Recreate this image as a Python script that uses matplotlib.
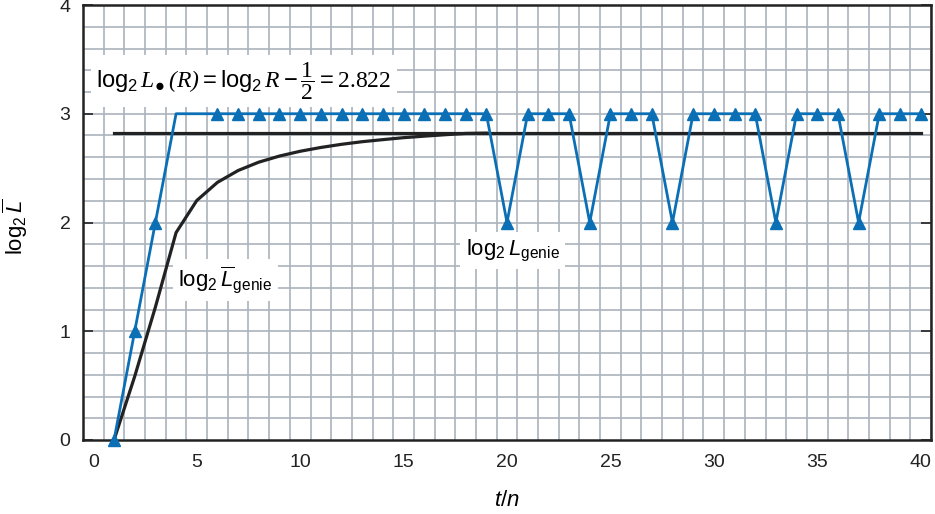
import matplotlib
matplotlib.use("Agg")
import matplotlib.pyplot as plt

plt.rcParams['font.family'] = ['Liberation Sans', 'DejaVu Sans']
plt.rcParams['mathtext.fontset'] = 'custom'
plt.rcParams['mathtext.rm'] = 'Liberation Sans'
plt.rcParams['mathtext.it'] = 'Liberation Sans:italic'
plt.rcParams['mathtext.cal'] = 'Liberation Serif:italic'
plt.rcParams['mathtext.tt'] = 'Liberation Serif'

# data
t = list(range(1, 41))
log2_L_genie = [0, 1, 2, 3, 3, 3, 3, 3, 3, 3,
                3, 3, 3, 3, 3, 3, 3, 3, 3, 2,
                3, 3, 3, 2, 3, 3, 3, 2, 3, 3,
                3, 3, 2, 3, 3, 3, 2, 3, 3, 3]
t_avg = list(range(1, 20))
log2_L_avg = [0.0, 0.585, 1.222, 1.907, 2.202, 2.369, 2.478, 2.555, 2.611, 2.655,
              2.690, 2.719, 2.743, 2.762, 2.780, 2.794, 2.807, 2.819, 2.822]
bound_t = [1, 40]
bound_val = [2.822, 2.822]
no_marker = [4, 5]

blue = '#0b6fb6'
grid_c = '#aab3bb'

fig = plt.figure(figsize=(9.35, 5.14), dpi=100)
ax = fig.add_axes([83 / 935, 1 - 440 / 514, 848 / 935, 435 / 514])

# grid: one cell per step in t, 0.2 in y
for gx in range(41):
    ax.axvline(gx + 0.5, color=grid_c, lw=1.2, zorder=0)
for k in range(1, 20):
    ax.axhline(k * 0.2, color=grid_c, lw=1.2, zorder=0)

ax.plot(bound_t, bound_val, color='#222222', lw=2.3, zorder=2)
ax.plot(t_avg, log2_L_avg, color='#222222', lw=2.3, zorder=2)
marks = [i for i, v in enumerate(t) if v not in no_marker]
ax.plot(t, log2_L_genie, color=blue, lw=2.0, marker='^', markersize=8,
        markevery=marks, zorder=3, clip_on=False)

ax.set_xlim(-0.5, 40.5)
ax.set_ylim(0, 4)
ax.set_xticks(range(0, 41, 5))
ax.set_yticks(range(0, 5))
ax.tick_params(axis='x', length=0, pad=10, labelsize=14, colors='#222222')
ax.tick_params(axis='y', direction='in', length=7, width=1.2, pad=9,
               labelsize=14, right=True, colors='#222222')
for s in ax.spines.values():
    s.set_linewidth(1.8)
    s.set_color('#222222')

ax.set_ylabel(r'$\mathrm{log}_2\,\overline{L}$', fontsize=16)
ax.yaxis.set_label_coords(-0.063, 0.49)
ax.set_xlabel(r'$t/n$', fontsize=16)
ax.xaxis.label.set_va('center')
ax.xaxis.set_label_coords(0.5, -0.138)

box = dict(facecolor='white', edgecolor='none', pad=4)
ax.text(0.15, 3.3,
        r'$\mathrm{log}_2\,\mathcal{L}_{●}\,\mathcal{(R)} = \mathrm{log}_2\,\mathcal{R} - \dfrac{\mathtt{1}}{\mathtt{2}} = \mathtt{2.822}$',
        fontsize=17, ha='left', va='center', bbox=box, zorder=4)
ax.text(4.1, 1.47, r'$\mathrm{log}_2\,\overline{L}_{\mathrm{genie}}$',
        fontsize=16, ha='left', va='center', bbox=box, zorder=4)
ax.text(18.0, 1.74, r'$\mathrm{log}_2\,L_{\mathrm{genie}}$',
        fontsize=16, ha='left', va='center', bbox=box, zorder=4)

plt.savefig('out.png', dpi=100)
